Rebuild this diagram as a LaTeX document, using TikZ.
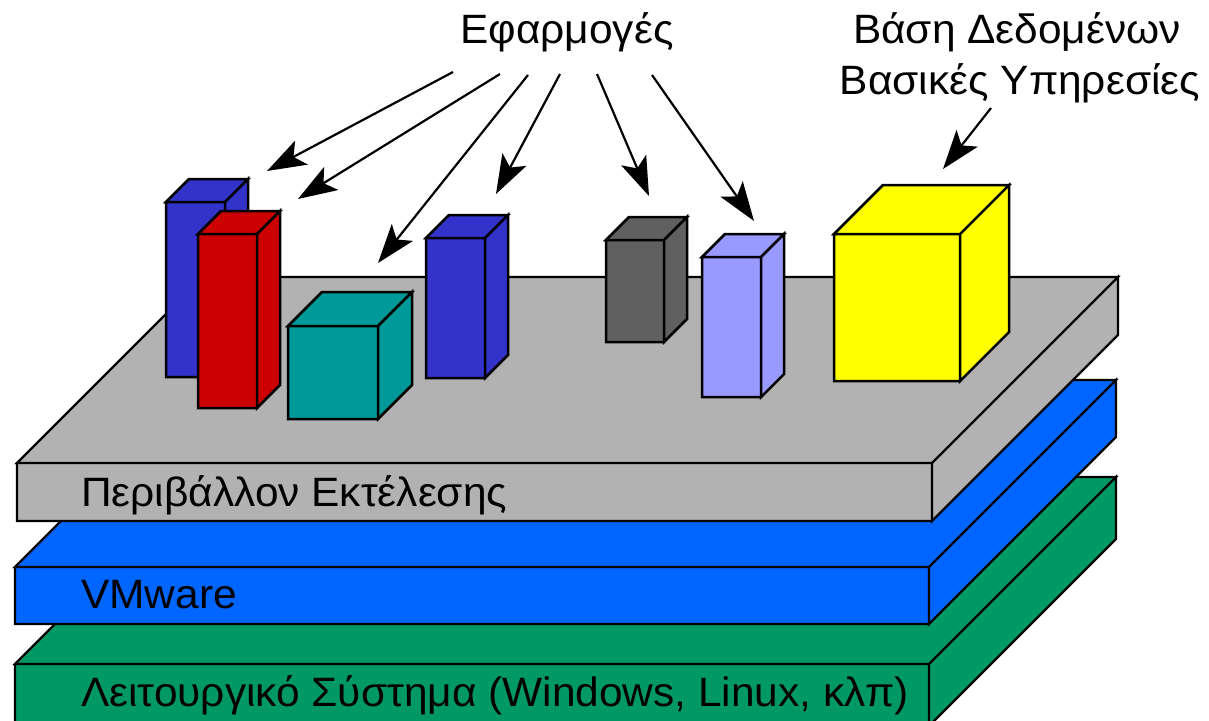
\documentclass[tikz,border=0pt]{standalone}
\usepackage{fontspec}
\setmainfont{Liberation Sans}[FakeStretch=1.035]
\usetikzlibrary{arrows.meta}
\definecolor{slabgray}{HTML}{B2B2B2}
\definecolor{slabblue}{HTML}{0066FF}
\definecolor{slabgreen}{HTML}{009966}
\definecolor{boxblue}{HTML}{3333CC}
\definecolor{boxred}{HTML}{CC0000}
\definecolor{boxteal}{HTML}{009999}
\definecolor{boxdark}{HTML}{606060}
\definecolor{boxlilac}{HTML}{9999FF}
\definecolor{boxyellow}{HTML}{FFFF00}
% #1 x0, #2 y0, #3 x1, #4 y1, #5 depth, #6 colour, #7 line width
\newcommand\mycuboid[7]{%
  \filldraw[fill=#6, draw=black, line width=#7, line join=miter]
    (#1,#2) rectangle (#3,#4)
    (#1,#2) -- ({#1+#5},{#2-#5}) -- ({#3+#5},{#2-#5}) -- (#3,#2) -- cycle
    (#3,#2) -- ({#3+#5},{#2-#5}) -- ({#3+#5},{#4-#5}) -- (#3,#4) -- cycle;
}
\tikzset{
  lbl/.style={inner sep=0pt, font=\fontsize{41}{51}\selectfont},
  pointer/.style={line width=2.2pt, -{Stealth[length=39pt, width=27pt, inset=9pt]}}
}
\begin{document}
\begin{tikzpicture}[x=1pt, y=-1pt]
\useasboundingbox (0,0) rectangle (1209,720);
% slabs
\mycuboid{15}{664}{929}{726}{187}{slabgreen}{2.3pt}
\mycuboid{15}{567}{929}{624}{187}{slabblue}{2.3pt}
\mycuboid{17}{463}{932}{521}{186}{slabgray}{2.3pt}
% slab labels
\node[lbl, anchor=base west] (os) at (81,706) {Λειτουργικό Σύστημα (Windows, Linux, κλπ)};
\node[lbl, anchor=base west] (vm) at (81,608) {VMware};
\node[lbl, anchor=base west] (env) at (81,506) {Περιβάλλον Εκτέλεσης};
% blocks
\mycuboid{166}{202}{225}{377}{23}{boxblue}{2.5pt}
\mycuboid{198}{234}{257}{408}{23}{boxred}{2.5pt}
\mycuboid{288}{326}{378}{419}{34}{boxteal}{2.5pt}
\mycuboid{426}{238}{485}{378}{23}{boxblue}{2.5pt}
\mycuboid{606}{240}{664}{342}{23}{boxdark}{2.5pt}
\mycuboid{702}{257}{761}{397}{23}{boxlilac}{2.5pt}
\mycuboid{834}{234}{960}{381}{49}{boxyellow}{2.5pt}
% titles
\node[lbl, anchor=base] (apps) at (567,43) {Εφαρμογές};
\node[lbl, anchor=base] (dbA) at (1017,43) {Βάση Δεδομένων};
\node[lbl, anchor=base] (dbB) at (1020,94) {Βασικές Υπηρεσίες};
% arrow end points
\coordinate (s1) at (453,72);  \coordinate (t1) at (267,171);
\coordinate (s2) at (500,74);  \coordinate (t2) at (298,199);
\coordinate (s3) at (528,75);  \coordinate (t3) at (378,263);
\coordinate (s4) at (560,74);  \coordinate (t4) at (496,194);
\coordinate (s5) at (597,74);  \coordinate (t5) at (649,196);
\coordinate (s6) at (652,75);  \coordinate (t6) at (754,221);
\coordinate (s7) at (991,108); \coordinate (t7) at (943,169);
\foreach \i in {1,...,7} { \draw[pointer] (s\i) -- (t\i); }
\end{tikzpicture}
\end{document}
